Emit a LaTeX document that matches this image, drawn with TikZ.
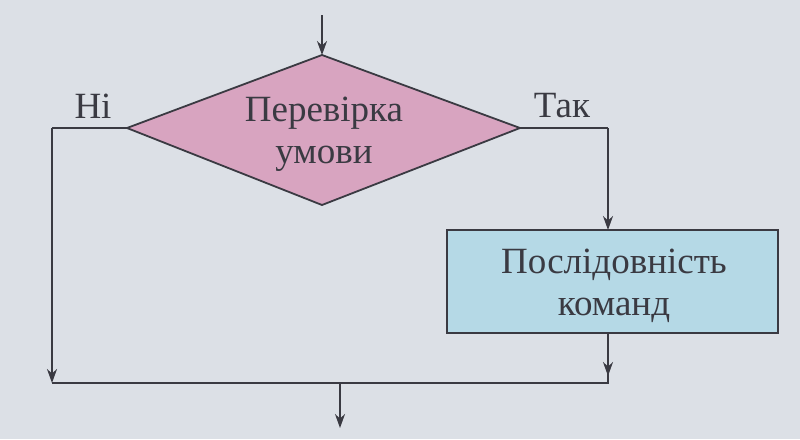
\documentclass[tikz,border=0pt]{standalone}
\usepackage{fontspec}
\setmainfont{Liberation Serif}
\usetikzlibrary{shapes.geometric,arrows.meta}
\definecolor{bg}{HTML}{DCE0E6}
\definecolor{pinkf}{HTML}{D8A4C0}
\definecolor{bluef}{HTML}{B5D9E6}
\definecolor{ink}{HTML}{3A3A42}
\tikzset{
 line/.style={draw=ink,line width=1.8pt},
 arr/.style={line,-{Stealth[length=14pt,width=10pt]}},
 txt/.style={font=\fontsize{37}{42}\selectfont,text=ink,align=center},
}
\begin{document}
\begin{tikzpicture}[x=1pt,y=-1pt]
\useasboundingbox[fill=bg] (0,0) rectangle (800,439);
\coordinate (in) at (322,15);
\coordinate (L) at (127,128);
\coordinate (R) at (520,128);
\coordinate (T) at (322,55);
\coordinate (B) at (322,205);
\draw[line,fill=pinkf] (L)--(T)--(R)--(B)--cycle;
\node[txt] (cond) at (324,134) {Перевірка\\умови};
\draw[line,fill=bluef] (447,230) rectangle (778,333);
\node[txt] (seq) at (614,286) {Послідовність\\команд};
\coordinate (boxtop) at (608,230);
\coordinate (boxbot) at (608,333);
\coordinate (lc) at (52,128);
\coordinate (ld) at (52,383);
\coordinate (rc) at (608,128);
\coordinate (rd) at (608,383);
\coordinate (o1) at (340,383);
\coordinate (o2) at (340,428);
\draw[arr] (in)--(T);
\draw[line] (L)--(lc);
\draw[arr] (lc)--(ld);
\draw[line] (R)--(rc);
\draw[arr] (rc)--(boxtop);
\draw[arr] (boxbot)--(608,376);
\draw[line] (ld)--(rd)--(608,370);
\draw[arr] (o1)--(o2);
\node[txt] (no) at (93,106) {Ні};
\node[txt] (yes) at (562,106) {Так};
\end{tikzpicture}
\end{document}
